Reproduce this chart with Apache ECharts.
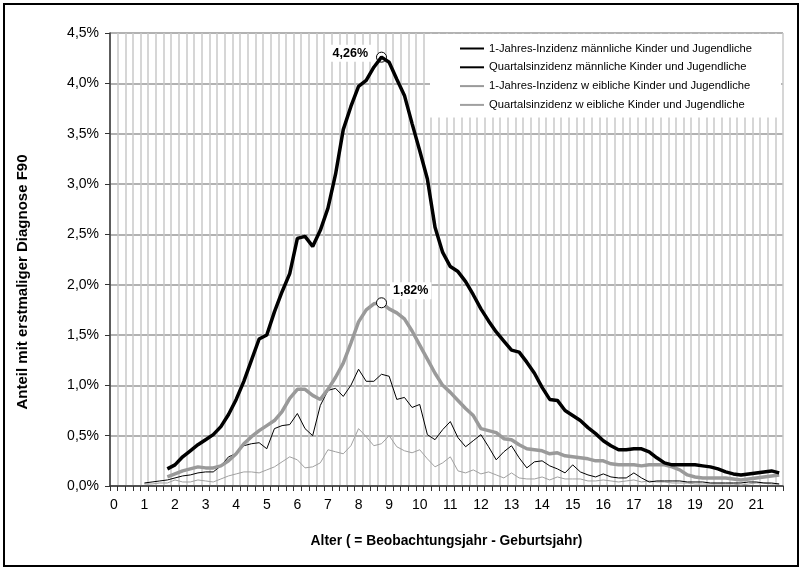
<!DOCTYPE html>
<html>
<head>
<meta charset="utf-8">
<script src="https://cdn.jsdelivr.net/npm/echarts@6/dist/echarts.min.js"></script>
<style>
  html, body { margin: 0; padding: 0; background: #fff; }
  #chart { width: 802px; height: 570px; }
</style>
</head>
<body>
<div id="chart"></div>
<script>
// Age in quarter-year steps (0 … 21.75); integer ages carry the axis labels
const yearLabels = ['0','1','2','3','4','5','6','7','8','9','10','11','12','13','14','15','16','17','18','19','20','21'];
const quarterSteps = ['', '.25', '.5', '.75'];
const ageCategories = [];
yearLabels.forEach(y => quarterSteps.forEach(q => ageCategories.push(y + q)));

const seriesNames = [
  '1-Jahres-Inzidenz männliche Kinder und Jugendliche',
  'Quartalsinzidenz männliche Kinder und Jugendliche',
  '1-Jahres-Inzidenz w eibliche Kinder und Jugendliche',
  'Quartalsinzidenz w eibliche Kinder und Jugendliche'
];

// Share with first F90 diagnosis, in percent, per quarter of age
const maleYear = [null, null, null, null, null, null, null,
  0.17, 0.21, 0.29, 0.35, 0.41, 0.46, 0.51, 0.59, 0.71, 0.86, 1.04, 1.25, 1.46, 1.50,
  1.73, 1.93, 2.11, 2.46, 2.48, 2.38, 2.54, 2.76, 3.10, 3.54, 3.77, 3.97, 4.03, 4.16,
  4.26, 4.21, 4.04, 3.88, 3.60, 3.33, 3.05, 2.57, 2.32, 2.18, 2.13, 2.03, 1.90, 1.76,
  1.64, 1.53, 1.44, 1.35, 1.33, 1.23, 1.12, 0.98, 0.86, 0.85, 0.75, 0.70, 0.65, 0.58,
  0.52, 0.45, 0.40, 0.36, 0.36, 0.37, 0.37, 0.34, 0.28, 0.23, 0.21, 0.21, 0.21, 0.21,
  0.20, 0.19, 0.17, 0.14, 0.12, 0.11, 0.12, 0.13, 0.14, 0.15, 0.13];

const maleQuarter = [null, null, null, null,
  0.03, 0.04, 0.05, 0.06, 0.08, 0.10, 0.11, 0.13, 0.14, 0.14, 0.20, 0.29, 0.32, 0.40,
  0.42, 0.43, 0.37, 0.57, 0.60, 0.61, 0.72, 0.57, 0.50, 0.80, 0.95, 0.97, 0.89, 1.00,
  1.16, 1.04, 1.04, 1.11, 1.09, 0.86, 0.88, 0.78, 0.81, 0.51, 0.46, 0.56, 0.64, 0.48,
  0.39, 0.45, 0.51, 0.39, 0.26, 0.34, 0.40, 0.28, 0.18, 0.24, 0.25, 0.20, 0.17, 0.13,
  0.21, 0.14, 0.11, 0.09, 0.12, 0.09, 0.08, 0.08, 0.13, 0.08, 0.04, 0.05, 0.05, 0.05,
  0.05, 0.04, 0.04, 0.04, 0.03, 0.03, 0.03, 0.03, 0.03, 0.04, 0.04, 0.03, 0.03, 0.02];

const femaleYear = [null, null, null, null, null, null, null,
  0.09, 0.12, 0.15, 0.17, 0.19, 0.18, 0.18, 0.20, 0.25, 0.32, 0.42, 0.49, 0.55, 0.60,
  0.65, 0.74, 0.87, 0.96, 0.96, 0.90, 0.86, 0.96, 1.08, 1.22, 1.42, 1.63, 1.75, 1.81,
  1.82, 1.76, 1.72, 1.66, 1.54, 1.40, 1.26, 1.12, 1.00, 0.93, 0.85, 0.77, 0.70, 0.57,
  0.55, 0.53, 0.47, 0.46, 0.41, 0.37, 0.36, 0.35, 0.32, 0.33, 0.30, 0.29, 0.28, 0.27,
  0.25, 0.25, 0.22, 0.21, 0.21, 0.21, 0.20, 0.21, 0.21, 0.21, 0.19, 0.16, 0.11, 0.09,
  0.08, 0.08, 0.08, 0.08, 0.07, 0.06, 0.07, 0.08, 0.09, 0.10, 0.11];

const femaleQuarter = [null, null, null, null,
  0.02, 0.02, 0.03, 0.03, 0.06, 0.04, 0.04, 0.06, 0.05, 0.04, 0.07, 0.10, 0.12, 0.14,
  0.14, 0.13, 0.16, 0.19, 0.24, 0.29, 0.26, 0.18, 0.19, 0.23, 0.36, 0.34, 0.32, 0.40,
  0.57, 0.49, 0.40, 0.42, 0.50, 0.39, 0.35, 0.33, 0.36, 0.27, 0.19, 0.23, 0.29, 0.15,
  0.13, 0.16, 0.12, 0.14, 0.11, 0.08, 0.13, 0.08, 0.07, 0.07, 0.09, 0.06, 0.09, 0.07,
  0.07, 0.07, 0.05, 0.05, 0.06, 0.05, 0.04, 0.05, 0.06, 0.04, 0.05, 0.04, 0.04, 0.03,
  0.03, 0.03, 0.02, 0.02, 0.02, 0.02, 0.02, 0.02, 0.01, 0.02, 0.03, 0.03, 0.02, 0.02];

const FONT = '"Liberation Sans", Arial, sans-serif';
const pct = (v, d) => v.toFixed(d).replace('.', ',') + '%';

function peakMark(position, distance, offset) {
  return {
    symbol: 'circle',
    symbolSize: 10,
    itemStyle: { color: '#fff', borderColor: '#000', borderWidth: 1 },
    label: {
      show: true,
      position: position,
      distance: distance,
      offset: offset,
      formatter: p => pct(p.value, 2),
      color: '#000',
      fontFamily: FONT,
      fontWeight: 'bold',
      fontSize: 12.5,
      backgroundColor: '#fff',
      padding: [2, 3]
    },
    data: [{ type: 'max' }]
  };
}

const chart = echarts.init(document.getElementById('chart'), null, { renderer: 'canvas' });

chart.setOption({
  animation: false,
  backgroundColor: '#fff',
  textStyle: { fontFamily: FONT, color: '#000' },
  grid: { left: 110, right: 19, top: 33, bottom: 84, containLabel: false },
  graphic: [
    {
      type: 'rect',
      shape: { x: 4, y: 4, width: 794, height: 562 },
      style: { fill: 'none', stroke: '#000', lineWidth: 2 },
      silent: true
    },
    {
      type: 'text',
      x: 23, y: 282,
      rotation: Math.PI / 2,
      style: {
        text: 'Anteil mit erstmaliger Diagnose F90',
        font: 'bold 15px ' + FONT,
        fill: '#000',
        align: 'center',
        verticalAlign: 'middle'
      },
      silent: true
    }
  ],
  legend: {
    orient: 'vertical',
    left: 430,
    top: 34,
    padding: [9, 29, 7, 29],
    itemGap: 7.8,
    itemWidth: 24,
    itemHeight: 10,
    backgroundColor: '#fff',
    itemStyle: { opacity: 0 },
    textStyle: { fontFamily: FONT, fontSize: 11.2, color: '#000' },
    data: seriesNames
  },
  xAxis: {
    type: 'category',
    data: ageCategories,
    boundaryGap: true,
    name: 'Alter ( = Beobachtungsjahr - Geburtsjahr)',
    nameLocation: 'middle',
    nameGap: 48,
    nameTextStyle: { fontFamily: FONT, fontWeight: 'bold', fontSize: 13.8, color: '#000' },
    axisLine: { lineStyle: { color: '#333', width: 1.5 } },
    axisTick: { show: true, interval: 0, length: 5, lineStyle: { color: '#333' } },
    axisLabel: { interval: 3, margin: 12, fontSize: 14, color: '#000', fontFamily: FONT },
    splitLine: { show: true, interval: 0, lineStyle: { color: '#c8c8c8', width: 1.5 } }
  },
  yAxis: {
    type: 'value',
    min: 0,
    max: 4.5,
    interval: 0.5,
    axisLine: { show: true, lineStyle: { color: '#333', width: 1.5 } },
    axisTick: { show: true, length: 5, lineStyle: { color: '#333' } },
    axisLabel: { formatter: v => pct(v, 1), fontSize: 14, color: '#000', fontFamily: FONT, margin: 11 },
    splitLine: { show: true, lineStyle: { color: '#999', width: 1.5 } }
  },
  series: [
    {
      name: seriesNames[0], type: 'line', data: maleYear, symbol: 'none', z: 5,
      lineStyle: { color: '#000', width: 3.5 }, itemStyle: { color: '#000' },
      markPoint: peakMark('left', 5, [0, -4])
    },
    {
      name: seriesNames[1], type: 'line', data: maleQuarter, symbol: 'none', z: 3,
      lineStyle: { color: '#000', width: 1 }, itemStyle: { color: '#000' }
    },
    {
      name: seriesNames[2], type: 'line', data: femaleYear, symbol: 'none', z: 4,
      lineStyle: { color: '#9a9a9a', width: 3.5 }, itemStyle: { color: '#9a9a9a' },
      markPoint: peakMark('right', 3, [0, -12])
    },
    {
      name: seriesNames[3], type: 'line', data: femaleQuarter, symbol: 'none', z: 2,
      lineStyle: { color: '#a0a0a0', width: 1 }, itemStyle: { color: '#a0a0a0' }
    }
  ]
});
</script>
</body>
</html>
